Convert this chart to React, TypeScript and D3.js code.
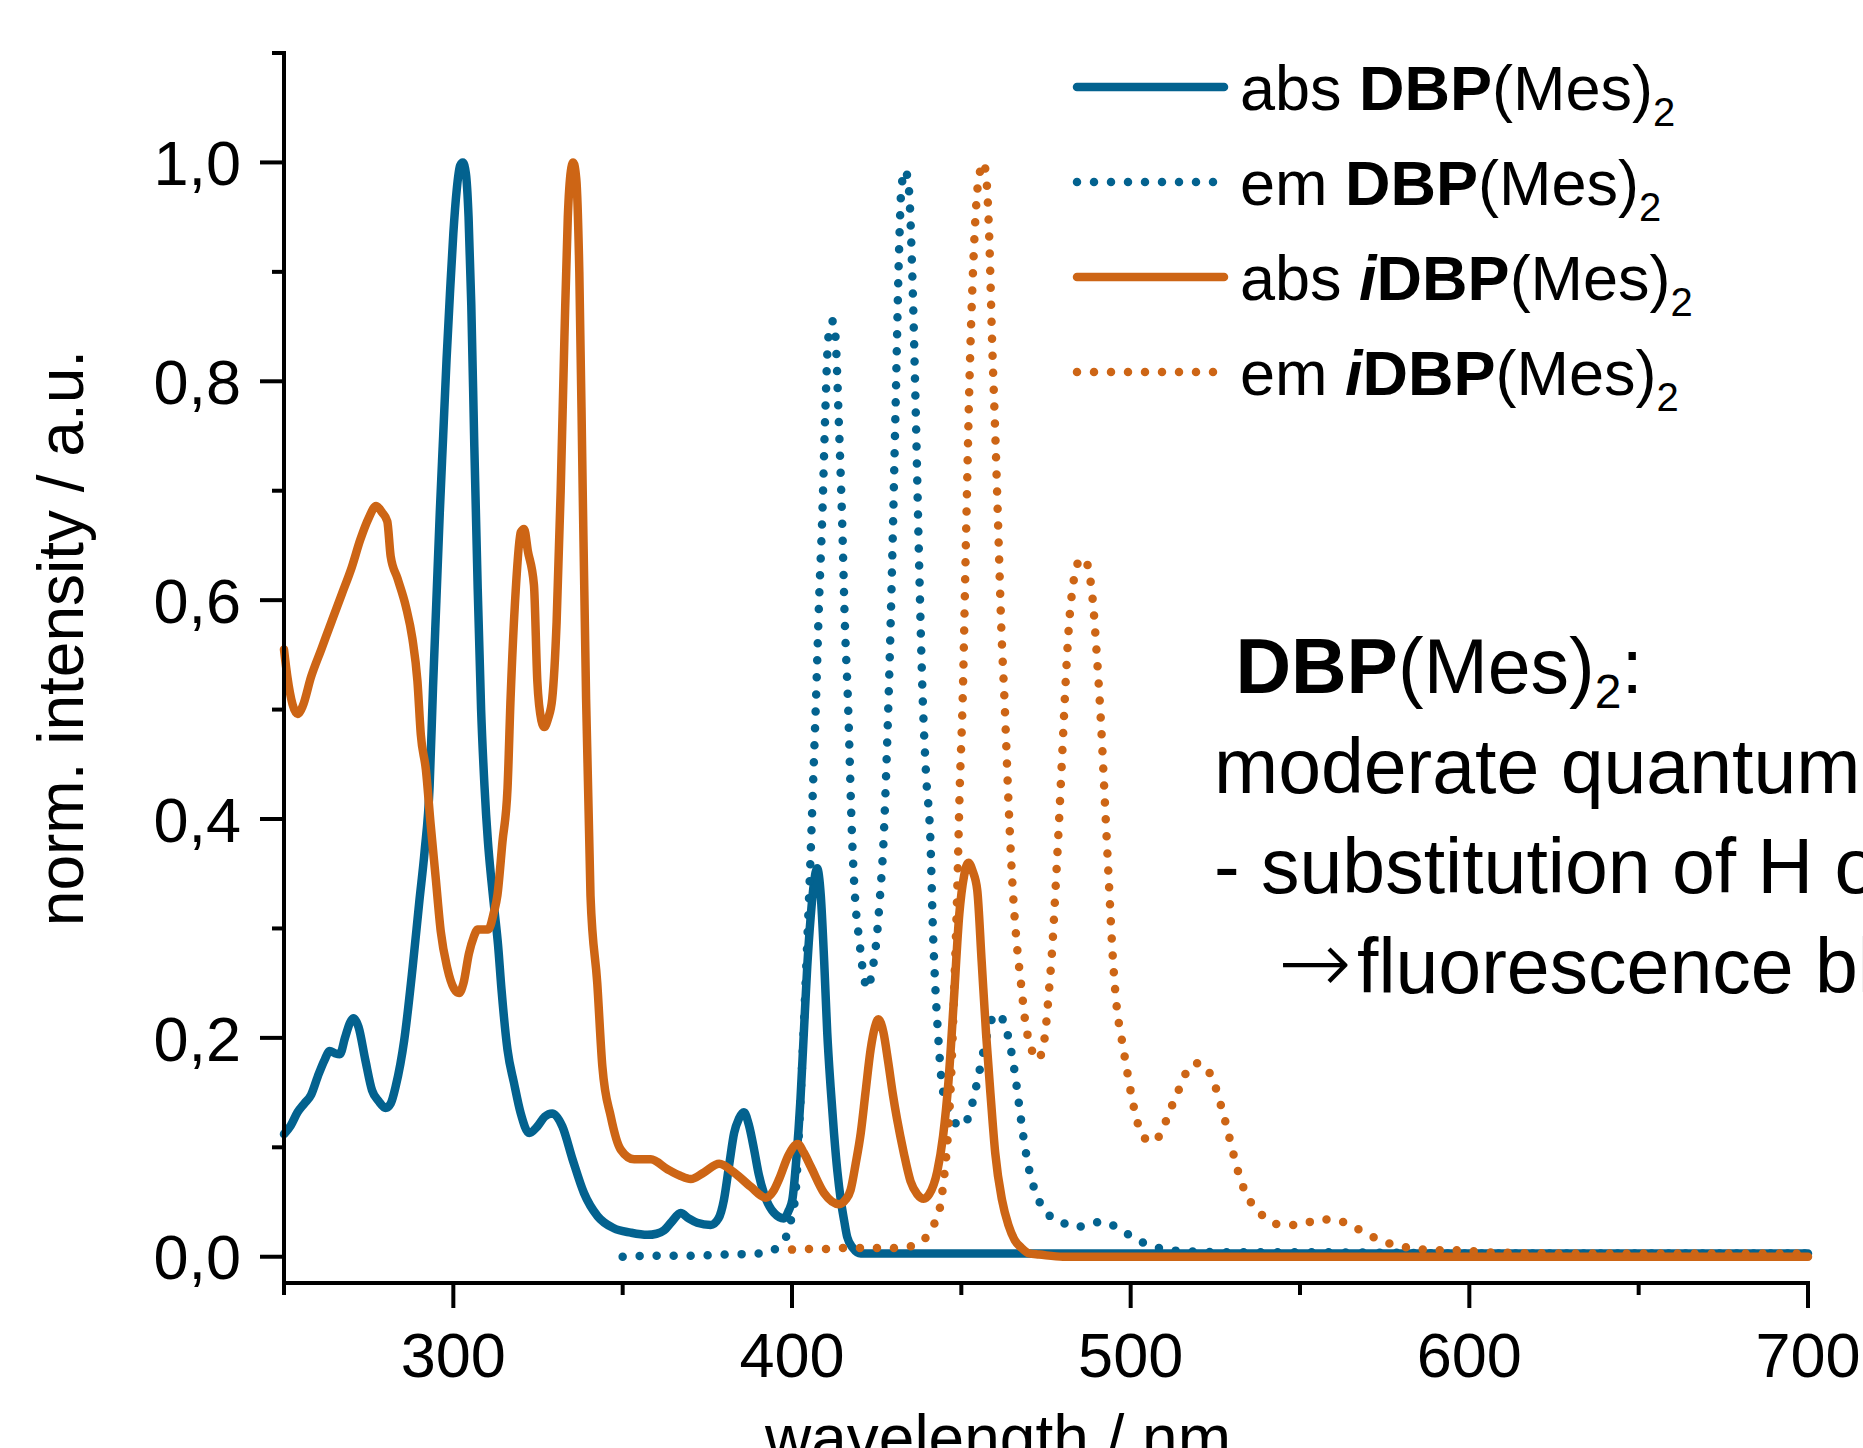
import React from 'react';
import * as d3 from 'd3';

const W = 1863;
const H = 1448;

const xDomain: [number, number] = [250, 700];
const yDomain: [number, number] = [-0.024, 1.1];
const xTicksMajor = [300, 400, 500, 600, 700];
const xTicksMinor = [250, 350, 450, 550, 650];
const yTicksMajor = [0, 0.2, 0.4, 0.6, 0.8, 1.0];
const yTicksMinor = [0.1, 0.3, 0.5, 0.7, 0.9, 1.1];

const BLUE = '#03628f';
const ORANGE = '#cd6515';

// abs DBP(Mes)2  [wavelength nm, norm. intensity]
const blueAbs: [number, number][] = [
  [250, 0.112], [252, 0.12], [254, 0.132], [256, 0.14], [258, 0.148], [260, 0.165], [262, 0.18],
  [263.5, 0.188], [265, 0.186], [266.5, 0.185], [268, 0.2], [269.5, 0.214], [270.5, 0.218],
  [272, 0.21], [274, 0.18], [276, 0.152], [278, 0.142], [280, 0.136], [281.5, 0.14], [283, 0.156],
  [285.5, 0.198], [288, 0.265], [290, 0.326], [291.5, 0.37], [293, 0.43], [294, 0.52], [295, 0.6],
  [296, 0.68], [297, 0.75], [298, 0.82], [299, 0.88], [300, 0.935], [301, 0.975], [302, 0.997],
  [302.8, 1.0], [303.7, 0.99], [304.5, 0.95], [305.3, 0.87], [306.2, 0.74], [307.2, 0.61],
  [308.2, 0.5], [309.2, 0.43], [310.2, 0.38], [311.2, 0.345], [312.2, 0.315], [313.2, 0.285],
  [314.2, 0.245], [316, 0.189],
  [317.9, 0.159], [319.9, 0.131], [322.4, 0.113], [324.8, 0.119], [327, 0.128], [329.2, 0.131],
  [332.2, 0.119], [335.2, 0.089], [338.6, 0.058], [342.6, 0.037], [347.4, 0.026], [352.4, 0.022],
  [357.3, 0.02], [360, 0.021], [362.2, 0.024], [364.5, 0.032], [367.1, 0.04], [369.5, 0.035],
  [372, 0.031], [376, 0.029], [378.3, 0.035], [379.9, 0.052], [381.5, 0.085], [382.9, 0.113],
  [384.3, 0.126], [385.8, 0.132], [387.3, 0.12], [388.8, 0.098], [390.2, 0.075], [391.7, 0.058],
  [394.7, 0.04], [397.6, 0.035], [399, 0.042], [400.1, 0.052], [401.3, 0.09], [402.5, 0.144],
  [403.5, 0.205], [404.5, 0.265], [405.5, 0.31], [406.5, 0.342], [407.4, 0.355], [408.5, 0.33],
  [409.5, 0.27], [410.4, 0.205], [411.4, 0.155], [412.4, 0.113], [413.4, 0.078], [414.4, 0.052],
  [415.4, 0.033], [416.3, 0.018], [418, 0.008], [420.3, 0.003], [430, 0.003], [500, 0.003],
  [600, 0.003], [700, 0.003],
];

// em DBP(Mes)2
const blueEm: [number, number][] = [
  [350, 0.0], [360, 0.001], [370, 0.001], [380, 0.002], [390, 0.003], [394.7, 0.0065], [396.5, 0.011],
  [398.1, 0.017], [399.6, 0.032], [401.1, 0.06], [402.3, 0.13], [403.4, 0.204], [404.4, 0.28],
  [405.3, 0.35], [406.2, 0.43], [407.1, 0.51], [408, 0.6], [408.9, 0.673], [409.9, 0.778],
  [410.6, 0.835], [411.5, 0.853], [412.2, 0.855], [412.9, 0.838], [413.8, 0.765], [414.8, 0.673],
  [415.6, 0.58], [416.5, 0.51], [417.8, 0.378], [418.8, 0.32], [419.8, 0.291], [421, 0.26],
  [422.3, 0.245], [423.6, 0.26], [425, 0.291], [426, 0.33], [427, 0.378], [428, 0.46], [428.6, 0.519],
  [429.6, 0.638], [430.6, 0.778], [431.6, 0.918], [432.3, 0.976], [433.4, 0.993], [434.5, 0.976],
  [435.5, 0.9], [436.5, 0.778], [437.5, 0.638], [438.5, 0.519], [439.6, 0.44], [440.9, 0.378],
  [441.6, 0.3], [442.3, 0.248], [443.2, 0.2], [444.2, 0.16], [445.8, 0.138], [447.5, 0.126],
  [449.5, 0.119], [451, 0.121], [452.8, 0.135], [454.7, 0.16], [456.7, 0.19], [458.7, 0.215],
  [460.7, 0.222], [462.6, 0.214], [464.2, 0.196], [465.6, 0.172], [467, 0.14], [468.3, 0.11],
  [470, 0.08], [472, 0.058], [474.5, 0.043], [477, 0.035], [480, 0.031], [483, 0.027], [486, 0.028],
  [489, 0.031], [492, 0.032], [494.5, 0.029], [497, 0.025], [500, 0.019], [503, 0.014], [506, 0.01],
  [510, 0.007], [516, 0.005], [530, 0.004], [560, 0.004], [600, 0.003], [650, 0.003], [700, 0.003],
];

// abs iDBP(Mes)2
const orangeAbs: [number, number][] = [
  [250, 0.555], [251, 0.53], [252.5, 0.505], [254, 0.496], [255.5, 0.503], [258, 0.53], [261, 0.555],
  [264, 0.58], [267, 0.605], [270, 0.63], [272.5, 0.655], [275, 0.675], [277.2, 0.686], [279, 0.68],
  [280.5, 0.672], [281.5, 0.64], [283.5, 0.62], [286, 0.594], [287.9, 0.565], [289.4, 0.526],
  [290.4, 0.477], [291.9, 0.445], [293.3, 0.395], [294.8, 0.346], [296.3, 0.297], [298.2, 0.264],
  [300.2, 0.245], [301.7, 0.241], [303, 0.25], [304.6, 0.277], [306, 0.292], [307.2, 0.299],
  [310.3, 0.299], [312, 0.315], [313, 0.33], [314.5, 0.379], [316, 0.428], [316.9, 0.51],
  [318.4, 0.608], [319.9, 0.662], [320.9, 0.665], [322, 0.645], [323.8, 0.614], [324.8, 0.526],
  [326, 0.49], [326.8, 0.484], [328, 0.492], [329.2, 0.51], [330.5, 0.58], [331.7, 0.7],
  [332.8, 0.84], [333.8, 0.95], [334.7, 0.992], [335.4, 1.0], [336.3, 0.985], [337.2, 0.9],
  [338.2, 0.7], [339.2, 0.51], [340.5, 0.33], [342.5, 0.25], [344, 0.174], [346.5, 0.128],
  [349.4, 0.098], [353.4, 0.089], [358.3, 0.089], [363.2, 0.08], [367, 0.074], [370.1, 0.071],
  [374, 0.077], [378.5, 0.085], [382.9, 0.077], [387.8, 0.064], [392.3, 0.054], [394.5, 0.06],
  [396.2, 0.071], [399, 0.093], [401.7, 0.103], [403.5, 0.095], [405.6, 0.082], [409.5, 0.058],
  [413.9, 0.048], [415.8, 0.052], [417.3, 0.061], [418.8, 0.085], [420.3, 0.113], [421.7, 0.15],
  [423.2, 0.189], [424.5, 0.21], [425.5, 0.217], [427, 0.205], [428.4, 0.178], [429.8, 0.148],
  [431, 0.126], [433, 0.095], [435, 0.069], [437, 0.057], [438.9, 0.053], [440.5, 0.057],
  [442.9, 0.078], [444.6, 0.11], [446.2, 0.16], [447.8, 0.235], [449.4, 0.313], [450.8, 0.348],
  [452.1, 0.36], [453.4, 0.352], [454.7, 0.335], [456, 0.27], [457.3, 0.204], [458.7, 0.145],
  [460, 0.095], [462, 0.052], [463.9, 0.029], [465.8, 0.015], [467.8, 0.008], [470, 0.003],
  [473, 0.002], [480, 0.0], [600, 0.0], [700, 0.0],
];

// em iDBP(Mes)2
const orangeEm: [number, number][] = [
  [400, 0.0065], [405, 0.007], [410, 0.007], [415, 0.008], [420, 0.008], [425, 0.008], [430, 0.008],
  [434, 0.009], [436.5, 0.011], [438.5, 0.015], [440.5, 0.021], [442, 0.03], [443.5, 0.042],
  [444.8, 0.07], [446, 0.11], [447, 0.165], [447.9, 0.245], [448.8, 0.335], [449.5, 0.425],
  [450.4, 0.51], [451.4, 0.66], [452.4, 0.8], [453.5, 0.905], [454.6, 0.97], [455.6, 0.993],
  [456.5, 1.0], [457.4, 0.985], [458.2, 0.935], [459.1, 0.835], [460.1, 0.745], [460.9, 0.665],
  [461.8, 0.575], [462.8, 0.505], [464, 0.41], [465.2, 0.335], [466.4, 0.285], [467.6, 0.25],
  [469, 0.212], [470.5, 0.192], [472.2, 0.18], [473.6, 0.185], [474.8, 0.205], [475.8, 0.24],
  [476.8, 0.28], [477.8, 0.335], [478.8, 0.395], [479.8, 0.46], [480.8, 0.525], [481.8, 0.578],
  [482.9, 0.612], [484, 0.63], [485.2, 0.638], [486.5, 0.637], [487.7, 0.626], [488.8, 0.6],
  [490, 0.55], [491.2, 0.49], [492.4, 0.415], [493.6, 0.34], [494.8, 0.27], [496, 0.225],
  [497.3, 0.2], [498.5, 0.178], [500.2, 0.148], [502, 0.123], [503.8, 0.11], [505.5, 0.105],
  [507.5, 0.107], [509.5, 0.117], [511.5, 0.133], [514, 0.151], [516, 0.166], [518.3, 0.176],
  [520.3, 0.177], [522.2, 0.173], [524.5, 0.16], [526.5, 0.14], [528.5, 0.117], [530.5, 0.092],
  [532.5, 0.07], [534.5, 0.055], [537, 0.044], [540, 0.035], [543, 0.03], [547, 0.029], [551, 0.03],
  [555.5, 0.034], [560, 0.034], [564, 0.03], [568.5, 0.023], [573, 0.016], [577.5, 0.011],
  [582.5, 0.008], [587, 0.0065], [592, 0.006], [597, 0.006], [605, 0.004], [630, 0.003],
  [660, 0.003], [700, 0.003],
];

const annotationLines = ['moderate quantum yield', '- substitution of H on'];
const annotationArrowLine = 'fluorescence blue-shifted';

const FONT = '"Liberation Sans", Arial, Helvetica, sans-serif';

export default function App() {
  const x = d3.scaleLinear().domain(xDomain).range([284, 1808]);
  const y = d3.scaleLinear().domain(yDomain).range([1283, 53]);
  const line = d3
    .line<[number, number]>()
    .x((d) => x(d[0]))
    .y((d) => y(d[1]))
    .curve(d3.curveMonotoneX);

  const series = [
    { data: blueAbs, color: BLUE, dotted: false },
    { data: blueEm, color: BLUE, dotted: true },
    { data: orangeAbs, color: ORANGE, dotted: false },
    { data: orangeEm, color: ORANGE, dotted: true },
  ];

  const fmt = (v: number) => d3.format('.1f')(v).replace('.', ',');
  const x0 = x(xDomain[0]);
  const yBase = y(yDomain[0]);
  const yTop = y(yDomain[1]);
  const xEnd = x(xDomain[1]);

  const legendRows = [
    { color: BLUE, dotted: false, pre: 'abs ', iso: false },
    { color: BLUE, dotted: true, pre: 'em ', iso: false },
    { color: ORANGE, dotted: false, pre: 'abs ', iso: true },
    { color: ORANGE, dotted: true, pre: 'em ', iso: true },
  ];

  const LW = 8.5;

  return (
    <svg
      width={W}
      height={H}
      viewBox={`0 0 ${W} ${H}`}
      style={{ position: 'absolute', left: 0, top: 0, background: '#fff', overflow: 'hidden' }}
      fontFamily={FONT}
    >
      <rect x={0} y={0} width={W} height={H} fill="#fff" />

      {/* curves */}
      <g fill="none" strokeLinejoin="round">
        {series.map((s, i) => (
          <path
            key={i}
            d={line(s.data) || ''}
            stroke={s.color}
            strokeWidth={LW}
            strokeLinecap="round"
            strokeDasharray={s.dotted ? '0 17' : undefined}
          />
        ))}
      </g>

      {/* axes */}
      <g stroke="#000" strokeWidth={4} fill="none">
        <line x1={x0} y1={yTop} x2={x0} y2={yBase + 2} strokeLinecap="square" />
        <line x1={x0} y1={yBase} x2={xEnd} y2={yBase} strokeLinecap="square" />
        {yTicksMajor.map((t) => (
          <line key={'ym' + t} x1={x0 - 24} x2={x0} y1={y(t)} y2={y(t)} />
        ))}
        {yTicksMinor.map((t) => (
          <line key={'yn' + t} x1={x0 - 12} x2={x0} y1={y(t)} y2={y(t)} />
        ))}
        {xTicksMajor.map((t) => (
          <line key={'xm' + t} x1={x(t)} x2={x(t)} y1={yBase} y2={yBase + 25} />
        ))}
        {xTicksMinor.map((t) => (
          <line key={'xn' + t} x1={x(t)} x2={x(t)} y1={yBase} y2={yBase + 12} />
        ))}
      </g>

      {/* tick labels */}
      <g fontSize={63} fill="#000">
        {yTicksMajor.map((t) => (
          <text key={'yl' + t} x={x0 - 43} y={y(t)} dy="0.36em" textAnchor="end">
            {fmt(t)}
          </text>
        ))}
        {xTicksMajor.map((t) => (
          <text key={'xl' + t} x={x(t)} y={1377} textAnchor="middle">
            {t}
          </text>
        ))}
      </g>

      {/* axis titles */}
      <text x={998} y={1460} fontSize={64} textAnchor="middle" fill="#000">
        wavelength / nm
      </text>
      <text transform="translate(83,638) rotate(-90)" fontSize={64} textAnchor="middle" fill="#000">
        norm. intensity / a.u.
      </text>

      {/* legend */}
      <g>
        {legendRows.map((r, i) => {
          const ly = 87 + i * 95;
          return (
            <g key={'lg' + i}>
              <line
                x1={1077}
                x2={r.dotted ? 1214 : 1224}
                y1={ly}
                y2={ly}
                stroke={r.color}
                strokeWidth={LW}
                strokeLinecap="round"
                strokeDasharray={r.dotted ? '0 17' : undefined}
              />
              <text x={1240} y={ly + 22.5} fontSize={63} fill="#000">
                {r.pre}
                {r.iso ? (
                  <tspan fontWeight="bold" fontStyle="italic">
                    i
                  </tspan>
                ) : null}
                <tspan fontWeight="bold">DBP</tspan>
                <tspan>(Mes)</tspan>
                <tspan fontSize={40} dy={16}>
                  2
                </tspan>
              </text>
            </g>
          );
        })}
      </g>

      {/* annotation */}
      <g fontSize={77} fill="#000">
        <text x={1214} y={693}>
          <tspan>{'\u00a0'}</tspan>
          <tspan fontWeight="bold">DBP</tspan>
          <tspan>(Mes)</tspan>
          <tspan fontSize={48} dy={15}>
            2
          </tspan>
          <tspan dy={-15}>:</tspan>
        </text>
        {annotationLines.map((t, i) => (
          <text key={'an' + i} x={1214} y={793 + i * 100}>
            {t}
          </text>
        ))}
        <text x={1278} y={993}>
          <tspan fontFamily='"DejaVu Sans", sans-serif' fontWeight={200} fontSize={88}>
            {'\u2192'}
          </tspan>
          <tspan x={1357}>{annotationArrowLine}</tspan>
        </text>
      </g>
    </svg>
  );
}
